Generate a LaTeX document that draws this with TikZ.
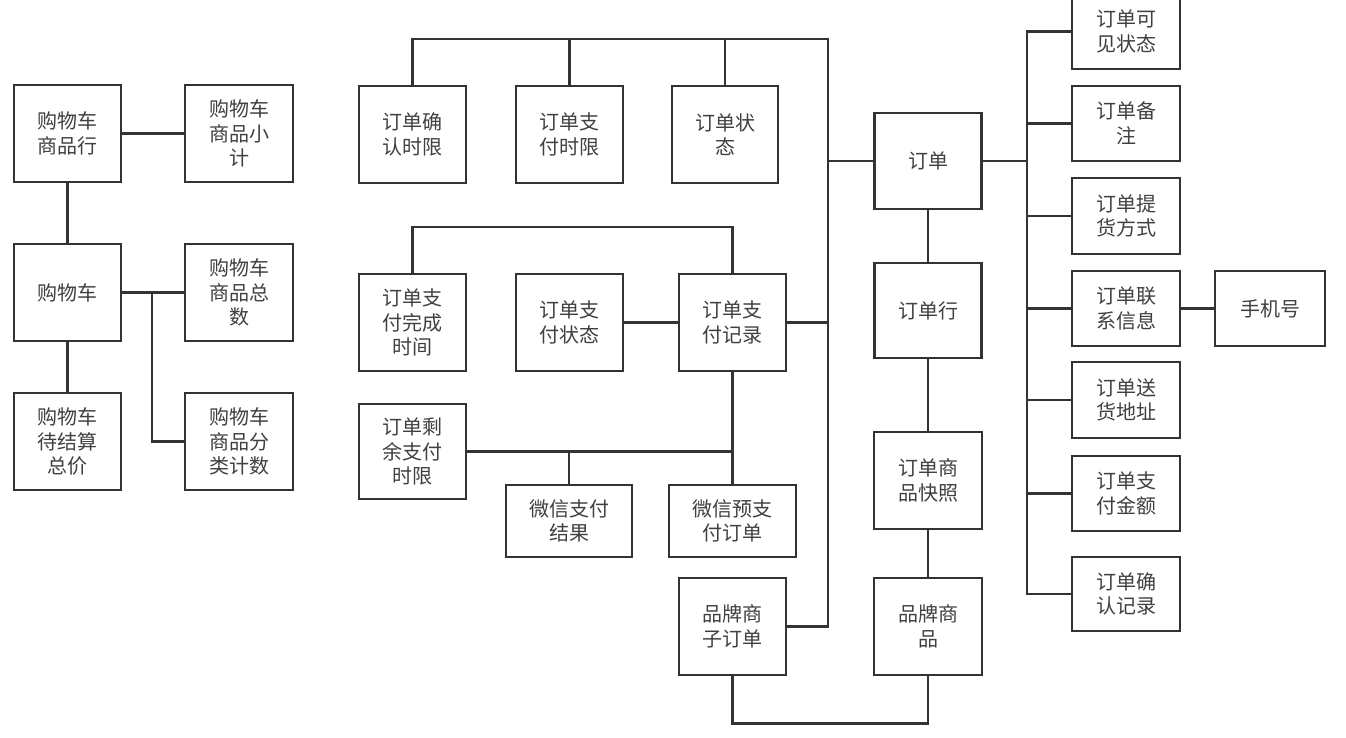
\documentclass[tikz,border=0pt]{standalone}
\usepackage{fontspec}
\newfontfamily\cjk{Noto Sans CJK SC}
\definecolor{ln}{HTML}{333333}
\definecolor{tx}{HTML}{404040}
\begin{document}
\begin{tikzpicture}[x=1pt,y=-1pt,
  bx/.style={draw=ln, line width=2.8pt, fill=white, inner sep=0pt, align=center,
    minimum width=107pt, minimum height=97pt, text=tx,
    font=\cjk\fontsize{20pt}{24.5pt}\selectfont},
  cn/.style={draw=ln, line width=2.5pt}]
\fill[white] (0,0) rectangle (1346,738);
\useasboundingbox (0,0) rectangle (1346,738);

% left group
\node[bx] (gwchh) at (67.5,133.5) {购物车\\商品行};
\node[bx, minimum width=108pt] (xj) at (239,133.5) {购物车\\商品小\\计};
\node[bx] (gwc) at (67.5,292.5) {购物车};
\node[bx, minimum width=108pt] (zs) at (239,292.5) {购物车\\商品总\\数};
\node[bx] (djs) at (67.5,441.5) {购物车\\待结算\\总价};
\node[bx, minimum width=108pt] (fl) at (239,441.5) {购物车\\商品分\\类计数};

% middle top
\node[bx] (qrsx) at (412.5,134.5) {订单确\\认时限};
\node[bx] (zfsx) at (569.5,134.5) {订单支\\付时限};
\node[bx, minimum width=106pt] (zt) at (725,134.5) {订单状\\态};

% middle
\node[bx] (wcsj) at (412.5,322.5) {订单支\\付完成\\时间};
\node[bx] (zfzt) at (569.5,322.5) {订单支\\付状态};
\node[bx] (zfjl) at (732.5,322.5) {订单支\\付记录};
\node[bx, minimum height=95pt] (sysx) at (412.5,451.5) {订单剩\\余支付\\时限};
\node[bx, minimum width=126pt, minimum height=72pt] (wxjg) at (569,521) {微信支付\\结果};
\node[bx, minimum width=127pt, minimum height=72pt] (wxyzf) at (732.5,521) {微信预支\\付订单};
\node[bx] (ppzdd) at (732.5,626.5) {品牌商\\子订单};
\node[bx, minimum width=108pt] (ppsp) at (928,626.5) {品牌商\\品};

% center column
\node[bx, minimum height=96pt] (dd) at (928,161) {订单};
\node[bx, minimum height=95pt] (ddh) at (928,310.5) {订单行};
\node[bx, minimum width=108pt] (kz) at (928,480.5) {订单商\\品快照};

% right column
\node[bx, minimum width=108pt, minimum height=75pt] (kjzt) at (1126,31.5) {订单可\\见状态};
\node[bx, minimum width=108pt, minimum height=75pt] (bz) at (1126,123.5) {订单备\\注};
\node[bx, minimum width=108pt, minimum height=76pt] (thfs) at (1126,216) {订单提\\货方式};
\node[bx, minimum width=108pt, minimum height=75pt] (lxxx) at (1126,308.5) {订单联\\系信息};
\node[bx, minimum width=110pt, minimum height=75pt] (sjh) at (1270,308.5) {手机号};
\node[bx, minimum width=108pt, minimum height=76pt] (shdz) at (1126,400) {订单送\\货地址};
\node[bx, minimum width=108pt, minimum height=75pt] (zfje) at (1126,493.5) {订单支\\付金额};
\node[bx, minimum width=108pt, minimum height=74pt] (qrjl) at (1126,594) {订单确\\认记录};

% coordinates
\coordinate (j1) at (152,292.5);
\coordinate (tT) at (828,39);
\coordinate (tB) at (828,626.5);
\coordinate (lp) at (732.5,227);
\coordinate (rT) at (1027,31.5);
\coordinate (rB) at (1027,594);

% left connectors
\draw[cn] (gwchh.east) -- (xj.west);
\draw[cn] (gwchh.south) -- (gwc.north);
\draw[cn] (gwc.south) -- (djs.north);
\draw[cn] (gwc.east) -- (zs.west);
\draw[cn] (j1) |- (fl.west);

% main trunk
\draw[cn] (qrsx.north) |- (tT) -- (tB) -- (ppzdd.east);
\draw[cn] (zfsx.north) -- (zfsx.north |- tT);
\draw[cn] (zt.north) -- (zt.north |- tT);
\draw[cn] (dd.west) -- (dd.west -| tT);
\draw[cn] (zfjl.east) -- (zfjl.east -| tT);

% payment
\draw[cn] (wcsj.north) |- (lp) -- (zfjl.north);
\draw[cn] (zfzt.east) -- (zfjl.west);
\draw[cn] (zfjl.south) -- (wxyzf.north);
\draw[cn] (sysx.east) -- (sysx.east -| zfjl.south);
\draw[cn] (wxjg.north) -- (wxjg.north |- sysx.east);

% center
\draw[cn] (dd.south) -- (ddh.north);
\draw[cn] (ddh.south) -- (kz.north);
\draw[cn] (kz.south) -- (ppsp.north);
\draw[cn] (ppzdd.south) -- ++(0,47) -| (ppsp.south);

% right trunk
\draw[cn] (kjzt.west) -- (rT) -- (rB) -- (qrjl.west);
\draw[cn] (dd.east) -- (dd.east -| rT);
\draw[cn] (bz.west) -- (bz.west -| rT);
\draw[cn] (thfs.west) -- (thfs.west -| rT);
\draw[cn] (lxxx.west) -- (lxxx.west -| rT);
\draw[cn] (shdz.west) -- (shdz.west -| rT);
\draw[cn] (zfje.west) -- (zfje.west -| rT);
\draw[cn] (lxxx.east) -- (sjh.west);
\end{tikzpicture}
\end{document}
